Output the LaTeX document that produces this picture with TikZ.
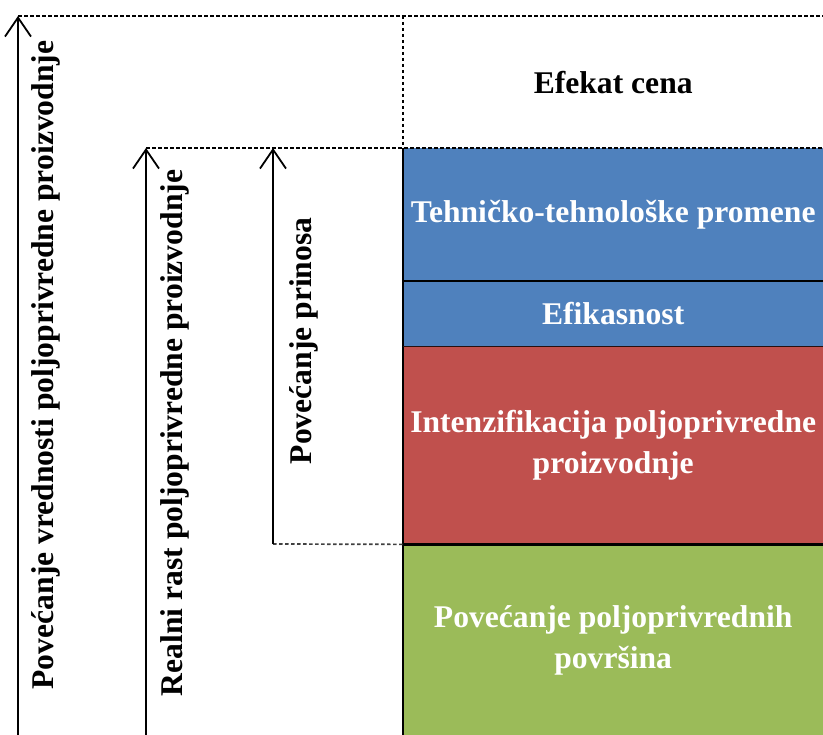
\documentclass[tikz,border=0pt]{standalone}
\usepackage{fontspec}
\setmainfont{Liberation Serif}
\usetikzlibrary{arrows.meta}
\definecolor{cblue}{RGB}{79,129,189}
\definecolor{cred}{RGB}{192,80,77}
\definecolor{cgreen}{RGB}{155,187,89}
\begin{document}
\begin{tikzpicture}[x=1pt,y=1pt,
  txt/.style={font=\fontsize{31.6}{40.5}\selectfont\bfseries},
  box/.style={txt, text=white, draw=none, inner sep=0pt, minimum width=420pt, anchor=north west, align=center},
  rot/.style={txt, rotate=90, anchor=base, inner sep=0pt},
  arr/.style={line width=1.8pt, -{Straight Barb[length=19pt,width=26pt,line width=1.8pt]}},
  dots/.style={line width=1.7pt, dash pattern=on 3.5pt off 2.5pt},
  sep/.style={line width=2.4pt}]
\useasboundingbox (0,0) rectangle (823,735);
% boxes
\node[box, text=black, minimum height=132pt] (cena) at (403,719) {Efekat cena};
\node[box, fill=cblue, minimum height=133pt] (tech) at (403,587) {Tehničko-tehnološke promene};
\node[box, fill=cblue, minimum height=65pt] (efik) at (403,454) {Efikasnost};
\node[box, fill=cred, minimum height=198pt] (int) at (403,389) {Intenzifikacija poljoprivredne\\proizvodnje};
\node[box, fill=cgreen, minimum height=191pt] (pov) at (403,191) {\raisebox{-4pt}{\begin{tabular}{@{}c@{}}Povećanje poljoprivrednih\\[0.5pt]površina\end{tabular}}};
% separators
\draw[sep] (tech.north west) -- (pov.south west);
\draw[line width=2pt] (tech.south west) -- (tech.south east);
\draw[line width=1.4pt, black!80!cred] (efik.south west) -- (efik.south east);
\draw[sep] (int.south west) -- (int.south east);
% coordinates for arrows and dotted lines
\coordinate (a1s) at (18,0);
\coordinate (a1e) at (18,719);
\coordinate (a2s) at (146,0);
\coordinate (a2e) at (146,587);
\coordinate (a3s) at (273,191);
\coordinate (a3e) at (273,587);
\coordinate (tr) at (823,719);
% dotted lines
\draw[dots] (a1e) -- (tr);
\draw[dots] (cena.north west) -- (cena.south west);
\draw[dots] (a2e) -- (tech.north east);
\draw[dots, black!75] (a3s) -- (int.south west);
% arrows
\draw[arr] (a1s) -- (a1e);
\draw[arr] (a2s) -- (a2e);
\draw[arr] (a3s) -- (a3e);
% rotated labels
\node[rot] (l1) at (53,370) {Povećanje vrednosti poljoprivredne proizvodnje};
\node[rot] (l2) at (182,302) {Realni rast poljoprivredne proizvodnje};
\node[rot] (l3) at (311,394) {Povećanje prinosa};
\end{tikzpicture}
\end{document}
